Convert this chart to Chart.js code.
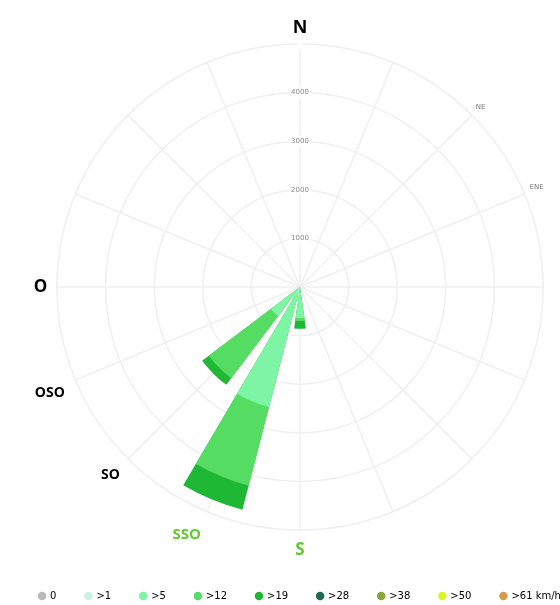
<!DOCTYPE html>
<html>
<head>
<meta charset="utf-8">
<style>
  html, body { margin: 0; padding: 0; background: #fff; overflow: hidden; }
  #wrap { position: relative; width: 600px; height: 605px; }
</style>
</head>
<body>
<div id="wrap"><canvas id="rose"></canvas></div>
<script src="https://cdn.jsdelivr.net/npm/chart.js"></script>
<script>
// rosa de los vientos: 16 direcciones, clases de velocidad (km/h)
const directions = ['N', 'NNE', 'NE', 'ENE', 'E', 'ESE', 'SE', 'SSE', 'S', 'SSO', 'SO', 'OSO', 'O', 'ONO', 'NO', 'NNO'];
const speedBins = ['0', '>1', '>5', '>12', '>19', '>28', '>38', '>50', '>61 km/h'];
const binColors = ['#b9b9b9', '#c6f3e6', '#7df5a4', '#55dc63', '#1fb835', '#1e6b4c', '#8aa63b', '#d9f522', '#d99a4b'];

// horas por direccion para cada clase (orden de directions)
const calm   = [0, 0, 0, 0, 0, 0, 0, 0, 0, 0, 0, 0, 0, 0, 0, 0];
const over1  = [0, 0, 0, 0, 0, 0, 0, 0, 40, 150, 50, 0, 0, 0, 0, 0];
const over5  = [0, 0, 0, 0, 0, 0, 0, 0, 600, 2400, 700, 0, 0, 0, 0, 0];
const over12 = [0, 0, 0, 0, 0, 0, 0, 0, 60, 1670, 1600, 0, 0, 0, 0, 0];
const over19 = [0, 0, 0, 0, 0, 0, 0, 0, 160, 510, 170, 0, 0, 0, 0, 0];
const over28 = [0, 0, 0, 0, 0, 0, 0, 0, 0, 0, 0, 0, 0, 0, 0, 0];
const over38 = [0, 0, 0, 0, 0, 0, 0, 0, 0, 0, 0, 0, 0, 0, 0, 0];
const over50 = [0, 0, 0, 0, 0, 0, 0, 0, 0, 0, 0, 0, 0, 0, 0, 0];
const over61 = [0, 0, 0, 0, 0, 0, 0, 0, 0, 0, 0, 0, 0, 0, 0, 0];

const radialMax = 5000;
const radialStep = 1000;

// etiquetas que se ven en la imagen
const shownLabels = ['N', 'NE', 'ENE', 'O', 'OSO', 'SO', 'SSO', 'S'];

const binSeries = [calm, over1, over5, over12, over19, over28, over38, over50, over61];

// cada barra ocupa 16 grados y deja 6.5 de hueco; N se parte en dos mitades
const BAR = 16, GAP = 6.5;
const slotAngles = [BAR / 2];
for (let k = 1; k < directions.length; k++) slotAngles.push(GAP, BAR);
slotAngles.push(GAP, BAR / 2);

function toSlots(values) {
  const out = [values[0]];
  for (let k = 1; k < values.length; k++) out.push(0, values[k]);
  out.push(0, values[0]);
  return out;
}

// apilado: cada clase se dibuja desde el centro hasta su suma acumulada,
// la clase interior queda encima (dataset 0 se pinta el ultimo)
const running = directions.map(() => 0);
const datasets = binSeries.map((bin, i) => {
  const cum = bin.map((v, k) => { running[k] += v; return v > 0 ? running[k] : 0; });
  return {
    label: speedBins[i],
    data: toSlots(cum),
    backgroundColor: binColors[i],
    borderWidth: 0,
    angle: (ctx) => slotAngles[ctx.dataIndex]
  };
});

const labelFonts = {
  N:   { family: 'Open Sans', size: 18, weight: 'bold' },
  O:   { family: 'Open Sans', size: 17, weight: 'bold' },
  OSO: { family: 'Open Sans', size: 14, weight: 'bold' },
  SO:  { family: 'Open Sans', size: 14, weight: 'bold' },
  SSO: { family: 'Open Sans', size: 15, weight: 'bold' },
  S:   { family: 'Open Sans', size: 17, weight: 'bold' }
};
const labelColors = { N: '#000', O: '#000', OSO: '#000', SO: '#000', SSO: '#62c92f', S: '#62c92f' };
const labelPadding = { N: 0, O: 4, S: 4, SSO: 10, NE: 0, ENE: 0 };

new Chart(document.getElementById('rose'), {
  type: 'polarArea',
  data: { labels: directions, datasets: datasets },
  options: {
    responsive: true,
    maintainAspectRatio: false,
    animation: false,
    layout: { padding: { top: 16, bottom: -6, left: 0, right: 0 } },
    scales: {
      r: {
        min: 0,
        max: radialMax,
        startAngle: 0,
        grid: { circular: true, color: '#efefef', lineWidth: 1.5 },
        angleLines: { display: true, color: '#efefef', lineWidth: 1.5 },
        ticks: {
          stepSize: radialStep,
          font: { size: 7, family: 'DejaVu Sans' },
          color: '#8a8a8a',
          showLabelBackdrop: true,
          backdropColor: '#ffffff',
          backdropPadding: 2,
          callback: (v) => (v === radialMax ? '' : v)
        },
        pointLabels: {
          display: true,
          padding: (ctx) => {
            const p = labelPadding[directions[ctx.index]];
            return p === undefined ? 6 : p;
          },
          callback: (label) => (shownLabels.includes(label) ? label : ''),
          font: (ctx) => labelFonts[directions[ctx.index]] || { family: 'DejaVu Sans', size: 7 },
          color: (ctx) => labelColors[directions[ctx.index]] || '#777'
        }
      }
    },
    plugins: {
      tooltip: { enabled: false },
      legend: {
        position: 'bottom',
        onClick: () => {},
        labels: {
          usePointStyle: true,
          pointStyle: 'circle',
          boxWidth: 6,
          boxHeight: 6,
          padding: 29,
          color: '#808080',
          font: { size: 10, family: 'DejaVu Sans' },
          generateLabels: () => speedBins.map((t, i) => ({
            text: t,
            fillStyle: binColors[i],
            strokeStyle: binColors[i],
            lineWidth: 0,
            pointStyle: 'circle',
            hidden: false,
            datasetIndex: i
          }))
        }
      }
    }
  }
});
</script>
</body>
</html>
